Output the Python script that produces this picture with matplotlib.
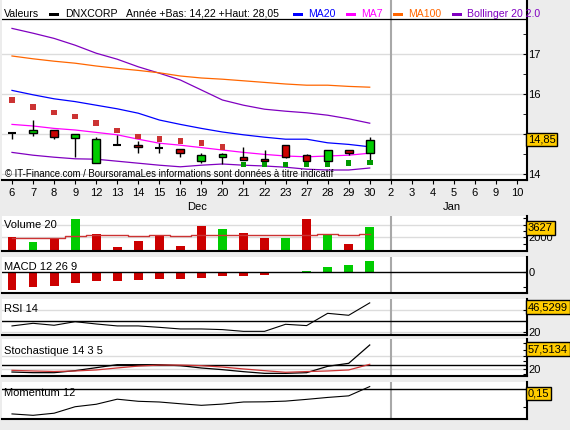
import numpy as np
import matplotlib
matplotlib.use("Agg")
import matplotlib.pyplot as plt
from matplotlib.patches import Rectangle

plt.rcParams['font.family'] = ['Liberation Sans', 'DejaVu Sans']
plt.rcParams['font.size'] = 8

# Jours affiches (decembre puis janvier)
jours = ["6", "7", "8", "9", "12", "13", "14", "15", "16", "19", "20", "21", "22", "23",
         "27", "28", "29", "30", "2", "3", "4", "5", "6", "9", "10"]

# Cours (18 seances)
ouv  = [15.02, 15.02, 15.10, 14.89, 14.27, 14.72, 14.72, 14.64, 14.62, 14.32, 14.42, 14.42,
        14.37, 14.73, 14.48, 14.32, 14.59, 14.52]
haut = [15.06, 15.35, 15.10, 14.99, 14.92, 14.97, 14.83, 14.77, 14.62, 14.52, 14.53, 14.68,
        14.60, 14.73, 14.49, 14.59, 14.59, 14.92]
bas  = [14.87, 14.96, 14.87, 14.42, 14.27, 14.72, 14.52, 14.52, 14.42, 14.27, 14.24, 14.35,
        14.21, 14.40, 14.31, 14.28, 14.47, 14.29]
clo  = [15.02, 15.10, 14.92, 14.99, 14.87, 14.72, 14.67, 14.64, 14.52, 14.48, 14.49, 14.35,
        14.32, 14.43, 14.32, 14.59, 14.52, 14.85]

boll_haut = [17.64, 17.52, 17.39, 17.22, 17.02, 16.87, 16.68, 16.52, 16.35, 16.10, 15.85, 15.72,
             15.62, 15.57, 15.53, 15.47, 15.38, 15.27]
boll_bas  = [14.54, 14.47, 14.42, 14.38, 14.37, 14.32, 14.27, 14.22, 14.18, 14.22, 14.25, 14.22,
             14.20, 14.17, 14.12, 14.10, 14.10, 14.15]
ma100 = [16.95, 16.88, 16.82, 16.77, 16.70, 16.64, 16.59, 16.53, 16.45, 16.40, 16.37, 16.33,
         16.29, 16.25, 16.22, 16.22, 16.19, 16.17]
ma20  = [16.09, 15.98, 15.88, 15.81, 15.72, 15.63, 15.52, 15.35, 15.24, 15.14, 15.05, 14.98,
         14.92, 14.87, 14.87, 14.78, 14.74, 14.68]
ma7   = [15.24, 15.20, 15.14, 15.10, 15.04, 14.98, 14.87, 14.77, 14.72, 14.66, 14.60, 14.54,
         14.49, 14.45, 14.43, 14.45, 14.47, 14.52]
sar   = [15.85, 15.67, 15.54, 15.44, 15.27, 15.09, 14.94, 14.87, 14.82, 14.77, 14.67, 14.24,
         14.24, 14.24, 14.24, 14.24, 14.27, 14.29]

volume = [2050, 1310, 1950, 4890, 2520, 470, 1420, 2310, 630, 3780, 3310, 2680, 1890, 1890,
          4890, 2370, 950, 3627]
vol_ma = [1840, 1840, 1840, 2160, 2370, 2370, 2160, 2370, 2160, 2370, 2370, 2370, 2370, 2370,
          2370, 2520, 2370, 2520]
macd = [-0.177, -0.15, -0.14, -0.11, -0.087, -0.087, -0.077, -0.067, -0.067, -0.06, -0.037,
        -0.037, -0.027, -0.003, 0.013, 0.053, 0.073, 0.113]
rsi = [25.3, 27.7, 25.9, 29.2, 27.1, 25.3, 25.3, 24.0, 22.5, 22.5, 21.9, 20.3, 20.3, 26.8, 25.6,
       36.9, 35.1, 46.53]
stoch_k = [13.8, 12.3, 12.3, 16.9, 23.7, 30.6, 30.6, 30.6, 28.3, 23.0, 19.2, 14.6, 10.8, 10.8,
           12.3, 26.8, 33.7, 75.6]
stoch_d = [17.7, 16.2, 15.0, 16.2, 18.5, 23.1, 27.4, 29.7, 29.7, 28.3, 25.2, 20.8, 16.9, 13.2,
           14.8, 16.2, 18.5, 31.4]
momentum = [-1.41, -1.49, -1.37, -1.0, -0.86, -0.57, -0.69, -0.73, -0.83, -0.92, -0.85, -0.73,
            -0.72, -0.68, -0.58, -0.47, -0.38, 0.15]

ROUGE = '#CC0000'
VERT = '#00CC00'
W, H = 570, 430

fig = plt.figure(figsize=(W / 100, H / 100), dpi=100, facecolor='#ECECEC')


def zone(x0, y0, x1, y1):
    # axes placee en pixels (origine en haut a gauche)
    a = fig.add_axes([x0 / W, 1 - y1 / H, (x1 - x0) / W, (y1 - y0) / H])
    a.set_facecolor('white')
    a.set_xlim(-0.475, 24.45)
    for s in ['top', 'left']:
        a.spines[s].set_visible(False)
    for s in ['right', 'bottom']:
        a.spines[s].set_linewidth(1.5)
    a.axvline(18, color='#A8A8A8', lw=1.5, zorder=1)
    a.yaxis.tick_right()
    a.tick_params(axis='y', which='both', direction='in', length=3, pad=1.5, labelsize=8)
    a.tick_params(axis='x', bottom=False, labelbottom=False)
    return a


def ftxt(x, y, s, fs=8, **kw):
    return fig.text(x / W, 1 - y / H, s, va='center', ha='left', fontsize=fs, **kw)


def boite(y, s):
    ftxt(528, y, s, zorder=10,
         bbox=dict(boxstyle='square,pad=0.15', fc='#FFCC00', ec='black', lw=1))


x = np.arange(len(clo))
o, h, l, c = map(np.array, (ouv, haut, bas, clo))

# ---- graphique principal
ax = zone(2, 0, 526.5, 180)
ax.set_ylim(13.85, 18.35)
ax.set_yticks([14, 15, 16, 17])
ax.set_yticklabels(['14', '', '16', '17'])
ax.set_yticks([14.5, 15.5, 16.5, 17.5], minor=True)
ax.grid(axis='y', which='major', color='#DCDCDC', lw=1)
ax.set_axisbelow(True)
ax.axhline(17.875, color='black', lw=0.9)

ax.plot(x, boll_haut, color='#8000C0', lw=0.9)
ax.plot(x, boll_bas, color='#8000C0', lw=0.9)
ax.plot(x, ma100, color='#FF6600', lw=0.9)
ax.plot(x, ma20, color='#0000FF', lw=0.9)
ax.plot(x, ma7, color='#FF00FF', lw=0.9)

ax.vlines(x, l, h, color='black', lw=1, zorder=3)
up, down, doji = c > o, c < o, c == o
ax.bar(x[up], (c - o)[up], bottom=o[up], width=0.37, color=VERT, edgecolor='black', lw=1, zorder=4)
ax.bar(x[down], (o - c)[down], bottom=c[down], width=0.37, color=ROUGE, edgecolor='black', lw=1, zorder=4)
ax.hlines(c[doji], x[doji] - 0.185, x[doji] + 0.185, color='black', lw=1.5, zorder=4)

sar_a = np.array(sar)
ax.scatter(x, sar_a, marker='s', s=16, lw=0, zorder=5,
           c=np.where(sar_a > c, '#CC3333', '#009900'))

ax.set_xticks(np.arange(len(jours)))
ax.set_xticklabels(jours)
ax.tick_params(axis='x', bottom=True, labelbottom=True, direction='out', length=3, pad=2.5, labelsize=8)
ax.text(8.8, -0.15, "Dec", transform=ax.get_xaxis_transform(), ha='center', va='center', fontsize=8)
ax.text(20.9, -0.15, "Jan", transform=ax.get_xaxis_transform(), ha='center', va='center', fontsize=8)
ftxt(5, 174, "© IT-Finance.com / BoursoramaLes informations sont données à titre indicatif",
     fs=6.9, zorder=6)

# legende
ftxt(3.6, 14, "Valeurs", fs=7.6)
ftxt(65, 14, "DNXCORP", fs=7.6)
ftxt(126, 14, "Année +Bas: 14,22 +Haut: 28,05", fs=7.6)
for x0, coul, lab in [(49, 'black', None), (293, '#0000FF', "MA20"), (346, '#FF00FF', "MA7"),
                      (393, '#FF6600', "MA100"), (452, '#8000C0', "Bollinger 20 2.0")]:
    fig.add_artist(Rectangle((x0 / W, 1 - 16 / H), 10 / W, 3.5 / H, transform=fig.transFigure,
                             color=coul, lw=0))
    if lab:
        ftxt(x0 + 15, 14, lab, fs=7.6, color=coul)
boite(139.5, "14,85")

# ---- volume
av = zone(2, 216, 526.5, 251)
av.set_ylim(-158, 5360)
vcoul = [ROUGE] + [VERT if c[i] > c[i - 1] else ROUGE for i in range(1, len(c))]
av.bar(x, volume, width=0.42, color=vcoul, zorder=2)
av.plot(x, vol_ma, color='#CC3333', lw=1, drawstyle='steps-mid', zorder=3)
av.set_yticks([1000, 2000, 3000, 4000, 5000])
av.set_yticklabels(['', '2000', '', '', ''])
for g in [2000, 4000]:
    av.axhline(g, color='#DCDCDC', lw=1, zorder=0)
ftxt(4, 225, "Volume 20")
boite(228, "3627")

# ---- MACD
am = zone(2, 257, 526.5, 293.3)
am.set_ylim(-0.213, 0.153)
mv = np.array(macd)
am.bar(x, mv, width=0.42, color=np.where(mv >= 0, VERT, ROUGE), zorder=2)
am.axhline(0, color='black', lw=1, zorder=3)
am.set_yticks([-0.15, 0])
am.set_yticklabels(['', '0'])
ftxt(4, 267, "MACD 12 26 9")

# ---- RSI
ar = zone(2, 299, 526.5, 334.5)
ar.set_ylim(17.4, 50.1)
for g in [20, 40]:
    ar.axhline(g, color='#DCDCDC', lw=1, zorder=0)
ar.axhline(30, color='black', lw=1, zorder=1)
ar.plot(x, rsi, color='black', lw=0.8, zorder=3)
ar.set_yticks([20, 40])
ar.set_yticklabels(['20', ''])
ftxt(4, 309, "RSI 14")
boite(307, "46,5299")

# ---- Stochastique
ast = zone(2, 339, 526.5, 376)
ast.set_ylim(4.7, 89.3)
for g in [20, 50]:
    ast.axhline(g, color='#DCDCDC', lw=1, zorder=0)
ast.axhline(30, color='black', lw=1, zorder=1)
ast.plot(x, stoch_k, color='black', lw=0.9, zorder=3)
ast.plot(x, stoch_d, color='#CC3333', lw=0.9, zorder=3)
ast.set_yticks([10, 20, 30, 40, 50, 65, 80])
ast.set_yticklabels(['', '20', '', '', '', '', ''])
ftxt(4, 351, "Stochastique 14 3 5")
boite(349, "57,5134")

# ---- Momentum
amo = zone(2, 382, 526.5, 419)
amo.set_ylim(-1.70, 0.41)
amo.axhline(0, color='black', lw=1, zorder=1)
amo.plot(x, momentum, color='black', lw=0.8, zorder=3)
amo.set_yticks([-1.0])
amo.set_yticklabels([''])
ftxt(4, 393, "Momentum 12")
boite(393.5, "0,15")

fig.savefig("out.png", dpi=100, facecolor=fig.get_facecolor())
